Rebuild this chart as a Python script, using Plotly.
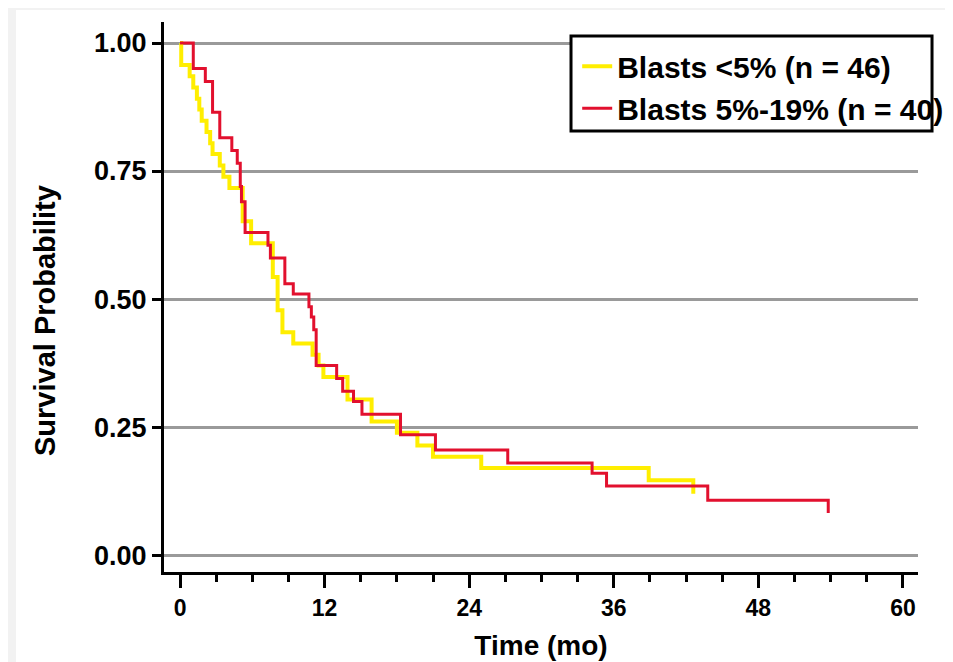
import plotly.graph_objects as go

# ---- data ----
yellow_name = "Blasts <5% (n = 46)"
yellow_t = [0, 0.1, 0.8, 1.1, 1.4, 1.6, 1.8, 2.2, 2.5, 2.7, 3.3, 3.6, 4.1, 5.2, 5.9,
            7.7, 8.1, 8.5, 9.4, 11.0, 11.5, 11.9, 13.9, 15.9, 18.0, 19.7, 21.0, 25.0, 38.9]
yellow_s = [1.0, 0.957, 0.935, 0.913, 0.891, 0.870, 0.848, 0.826, 0.804, 0.783, 0.761, 0.739,
            0.717, 0.652, 0.609, 0.543, 0.478, 0.435, 0.413, 0.391, 0.370, 0.348, 0.304,
            0.261, 0.239, 0.214, 0.192, 0.170, 0.146]
yellow_end_t = 42.6
yellow_end_tick = 0.12

red_name = "Blasts 5%-19% (n = 40)"
red_t = [0, 1.1, 2.1, 2.7, 3.3, 4.3, 4.75, 5.0, 5.1, 5.4, 7.3, 7.5, 8.7, 9.4, 10.7, 10.9,
         11.1, 11.3, 13.0, 13.5, 14.4, 15.1, 18.3, 21.2, 27.2, 34.2, 35.4, 43.8]
red_s = [1.0, 0.95, 0.925, 0.865, 0.815, 0.79, 0.765, 0.72, 0.69, 0.63, 0.605, 0.58, 0.53,
         0.51, 0.485, 0.465, 0.44, 0.37, 0.345, 0.32, 0.30, 0.275, 0.235, 0.205, 0.18, 0.16,
         0.135, 0.107]
red_end_t = 53.8
red_end_tick = 0.082

x_ticks = [0, 12, 24, 36, 48, 60]
y_ticks = [0, 0.25, 0.5, 0.75, 1.0]
y_ticklabels = ["0.00", "0.25", "0.50", "0.75", "1.00"]
x_title = "Time (mo)"
y_title = "Survival Probability"

YELLOW = "#FFEE00"
RED = "#E2102E"
BOLD = "Liberation Sans, Arial, sans-serif"

fig = go.Figure()
for name, t, s, te, tick, col, w, grp in [
    (yellow_name, yellow_t, yellow_s, yellow_end_t, yellow_end_tick, YELLOW, 4, "a"),
    (red_name, red_t, red_s, red_end_t, red_end_tick, RED, 3, "b"),
]:
    fig.add_trace(go.Scatter(
        x=t + [te, te], y=s + [s[-1], tick], mode="lines", name=name,
        legendgroup=grp, line=dict(color=col, width=w, shape="hv"),
    ))

fig.update_layout(
    width=945, height=654,
    margin=dict(l=156, r=35, t=14, b=90, autoexpand=False),
    paper_bgcolor="#f2f2f2", plot_bgcolor="white",
    showlegend=True,
    legend=dict(x=0.548, y=0.967, xanchor="left", yanchor="top",
                bgcolor="rgba(0,0,0,0)", borderwidth=0,
                traceorder="grouped", tracegroupgap=0,
                font=dict(family=BOLD, size=30, color="black", weight="bold")),
    shapes=[
        dict(type="rect", xref="paper", yref="paper", x0=-0.1963, x1=1.06,
             y0=-0.18, y1=1.0218, fillcolor="white", line=dict(width=0), layer="below"),
        dict(type="rect", xref="paper", yref="paper", x0=0.5398, x1=1.0186,
             y0=0.8018, y1=0.9745, fillcolor="white",
             line=dict(color="black", width=3), layer="above"),
    ],
    annotations=[
        dict(text=y_title, xref="paper", yref="paper", x=-0.158, y=0.458,
             textangle=-90, showarrow=False, xanchor="center", yanchor="middle",
             font=dict(family=BOLD, size=29, color="black", weight="bold")),
    ],
)

fig.update_xaxes(
    range=[-1.33, 61.25], tickmode="array", tickvals=x_ticks,
    ticktext=[str(v) for v in x_ticks], automargin=False,
    ticks="outside", ticklen=13, tickwidth=3, tickcolor="black",
    showline=True, linewidth=3, linecolor="black",
    showgrid=False, zeroline=False,
    minor=dict(tick0=0, dtick=3, ticks="outside", ticklen=7, tickwidth=3,
               tickcolor="black", showgrid=False),
    tickfont=dict(family=BOLD, size=23, color="black", weight="bold"),
    title=dict(text=x_title, standoff=16,
               font=dict(family=BOLD, size=28, color="black", weight="bold")),
)
fig.update_yaxes(
    range=[-0.033, 1.041], tickmode="array", tickvals=y_ticks, ticktext=y_ticklabels,
    automargin=False,
    ticks="outside", ticklen=9, tickwidth=3, tickcolor="black",
    showline=True, linewidth=3, linecolor="black",
    showgrid=True, gridcolor="#9a9a9a", gridwidth=3, zeroline=False,
    tickfont=dict(family=BOLD, size=27, color="black", weight="bold"),
)

fig.write_html("out.html")
